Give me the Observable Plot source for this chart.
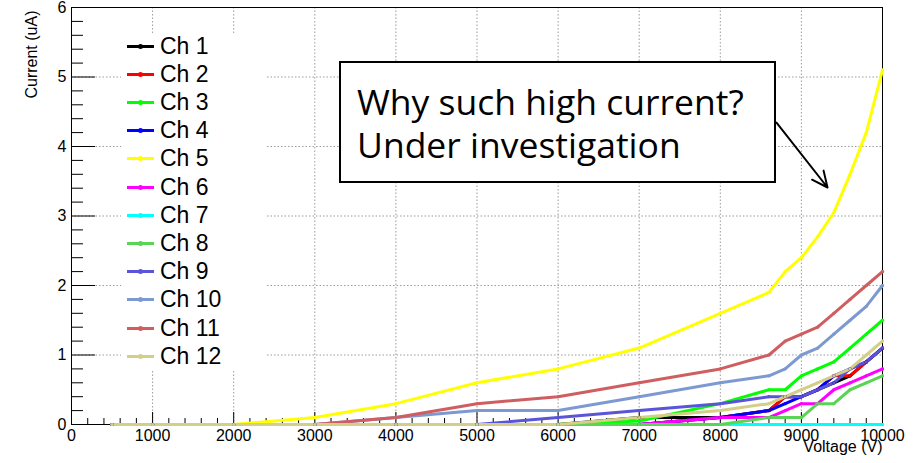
<!DOCTYPE html>
<html>
<head>
<meta charset="utf-8">
<script src="https://cdn.jsdelivr.net/npm/d3@7"></script>
<script src="https://cdn.jsdelivr.net/npm/@observablehq/plot@0.6"></script>
<style>
  body { margin: 0; background: #fff; }
  #chart { position: relative; width: 918px; height: 463px; overflow: hidden; font-family: "Liberation Sans", Arial, sans-serif; }
  #chart svg { position: absolute; left: 0; top: 0; }
  .legend { position: absolute; left: 121px; top: 33px; width: 144px; height: 337px; background: #fff; }
  .legend .row { position: absolute; left: 6px; height: 28px; display: flex; align-items: center; }
  .legend .swatch { position: relative; width: 27px; height: 3px; }
  .legend .swatch i { position: absolute; left: 11px; top: -1px; width: 5px; height: 5px; border-radius: 50%; }
  .legend .name { margin-left: 6px; font-size: 23px; color: #000; white-space: nowrap; }
  .note { position: absolute; left: 339px; top: 61px; width: 437px; height: 122px; box-sizing: border-box;
          border: 2px solid #000; background: #fff; padding: 17px 0 0 16px;
          font-family: "Open Sans", "Noto Sans", sans-serif; font-size: 35.5px; line-height: 43px; color: #000; }
</style>
</head>
<body>
<div id="chart"></div>
<script>
// HV scan: leakage current of each channel against applied voltage
const channels = ["Ch 1", "Ch 2", "Ch 3", "Ch 4", "Ch 5", "Ch 6", "Ch 7", "Ch 8", "Ch 9", "Ch 10", "Ch 11", "Ch 12"];
const colors   = ["#000000", "#ff0000", "#00ff00", "#0000ff", "#ffff00", "#ff00ff", "#00ffff", "#59d454", "#5954d8", "#7d99d1", "#cf5e61", "#d4cf87"];

// voltage steps (V)
const volts = [500, 1000, 2000, 3000, 4000, 5000, 6000, 7000, 8000, 8600, 8800, 9000, 9200, 9400, 9600, 9800, 10000];

// current (uA) per channel at each voltage step
const ch1  = [0, 0, 0, 0, 0,   0,   0,   0.1,  0.1, 0.2, 0.4, 0.4, 0.5, 0.6,  0.7, 0.9, 1.1];
const ch2  = [0, 0, 0, 0, 0,   0,   0,   0,    0.1, 0.2, 0.4, 0.4, 0.5, 0.7,  0.7, 0.9, 1.1];
const ch3  = [0, 0, 0, 0, 0,   0,   0,   0.05, 0.3, 0.5, 0.5, 0.7, 0.8, 0.9,  1.1, 1.3, 1.5];
const ch4  = [0, 0, 0, 0, 0,   0,   0,   0,    0.1, 0.2, 0.3, 0.4, 0.5, 0.7,  0.8, 0.9, 1.1];
const ch5  = [0, 0, 0, 0.1, 0.3, 0.6, 0.8, 1.1, 1.6, 1.9, 2.2, 2.4, 2.7, 3.05, 3.6, 4.2, 5.1];
const ch6  = [0, 0, 0, 0, 0,   0,   0,   0,    0.1, 0.1, 0.2, 0.3, 0.3, 0.5,  0.6, 0.7, 0.8];
const ch7  = [0, 0, 0, 0, 0,   0,   0,   0,    0,   0,   0,   0,   0,   0,    0,   0,   0];
const ch8  = [0, 0, 0, 0, 0,   0,   0,   0,    0,   0.1, 0.1, 0.1, 0.3, 0.3,  0.5, 0.6, 0.7];
const ch9  = [0, 0, 0, 0, 0,   0,   0.1, 0.2,  0.3, 0.4, 0.4, 0.4, 0.5, 0.6,  0.8, 0.9, 1.1];
const ch10 = [0, 0, 0, 0, 0.1, 0.2, 0.2, 0.4,  0.6, 0.7, 0.8, 1.0, 1.1, 1.3,  1.5, 1.7, 2.0];
const ch11 = [0, 0, 0, 0, 0.1, 0.3, 0.4, 0.6,  0.8, 1.0, 1.2, 1.3, 1.4, 1.6,  1.8, 2.0, 2.2];
const ch12 = [0, 0, 0, 0, 0,   0,   0,   0.1,  0.2, 0.3, 0.4, 0.5, 0.6, 0.7,  0.8, 1.0, 1.2];
const series = [ch1, ch2, ch3, ch4, ch5, ch6, ch7, ch8, ch9, ch10, ch11, ch12];

// axis ticks
const xMajor = d3.range(0, 10001, 1000);
const xMinor = d3.range(0, 10001, 200).filter(v => v % 1000 !== 0);
const yMajor = [0, 1, 2, 3, 4, 5, 6];
const yMinor = d3.range(0, 6.001, 0.2).map(v => +v.toFixed(1)).filter(v => Math.abs(v - Math.round(v)) > 1e-6);

// annotation arrow, in voltage / current units
const noteArrow = [{v1: 8693, i1: 4.345, v2: 9322, i2: 3.41}];
const noteLines = ["Why such high current?", "Under investigation"];

const rows = [];
channels.forEach((name, k) => volts.forEach((v, j) => rows.push({ch: name, v, i: series[k][j]})));

const dots = {stroke: "#9a9a9a", strokeDasharray: "1.5,2", strokeOpacity: 1, strokeWidth: 1};

const plot = Plot.plot({
  width: 918,
  height: 463,
  marginLeft: 71,
  marginRight: 36,
  marginTop: 7,
  marginBottom: 39,
  style: {fontFamily: "'Liberation Sans', Arial, sans-serif", fontSize: "16px", background: "#fff", color: "#000"},
  x: {domain: [0, 10000]},
  y: {domain: [0, 6]},
  color: {domain: channels, range: colors},
  marks: [
    Plot.gridX(xMajor.slice(1, -1), dots),
    Plot.gridY(yMajor.slice(1, -1), dots),
    // tick marks drawn inward, long for majors and short for minors
    Plot.axisX(xMajor, {tickSize: -12, tickFormat: () => "", label: null}),
    Plot.axisX(xMinor, {tickSize: -6, tickFormat: () => "", label: null}),
    Plot.axisY(yMajor, {tickSize: -24, tickFormat: () => "", label: null}),
    Plot.axisY(yMinor, {tickSize: -12, tickFormat: () => "", label: null}),
    Plot.axisX(xMajor, {tickSize: 0, tickPadding: 5, tickFormat: d3.format("d"), label: null}),
    Plot.axisY(yMajor, {tickSize: 0, tickPadding: 5, tickFormat: d3.format("d"), label: null}),
    Plot.frame({stroke: "#000", strokeWidth: 1}),
    Plot.line(rows, {x: "v", y: "i", z: "ch", stroke: "ch", strokeWidth: 3}),
    Plot.dot(rows, {x: "v", y: "i", fill: "ch", r: 1.6}),
    Plot.text(["Voltage (V)"], {frameAnchor: "bottom-right", textAnchor: "end", dy: 27.5, fontSize: 16}),
    Plot.text(["Current (uA)"], {frameAnchor: "top-left", textAnchor: "end", rotate: -90, dx: -45.5, dy: 3, fontSize: 16}),
    Plot.arrow(noteArrow, {x1: "v1", y1: "i1", x2: "v2", y2: "i2", stroke: "#000", strokeWidth: 2, headLength: 13, headAngle: 50, inset: 0})
  ]
});

const chart = document.getElementById("chart");
chart.appendChild(plot);

// legend box (white, borderless) on top of the grid
const legend = document.createElement("div");
legend.className = "legend";
channels.forEach((name, k) => {
  const row = document.createElement("div");
  row.className = "row";
  row.style.top = (46 + k * 28.2 - 33 - 14) + "px";
  const sw = document.createElement("span");
  sw.className = "swatch";
  sw.style.background = colors[k];
  const pt = document.createElement("i");
  pt.style.background = colors[k];
  sw.appendChild(pt);
  const label = document.createElement("span");
  label.className = "name";
  label.textContent = name;
  row.appendChild(sw);
  row.appendChild(label);
  legend.appendChild(row);
});
chart.appendChild(legend);

// annotation box
const note = document.createElement("div");
note.className = "note";
noteLines.forEach(t => { const d = document.createElement("div"); d.textContent = t; note.appendChild(d); });
chart.appendChild(note);
</script>
</body>
</html>
